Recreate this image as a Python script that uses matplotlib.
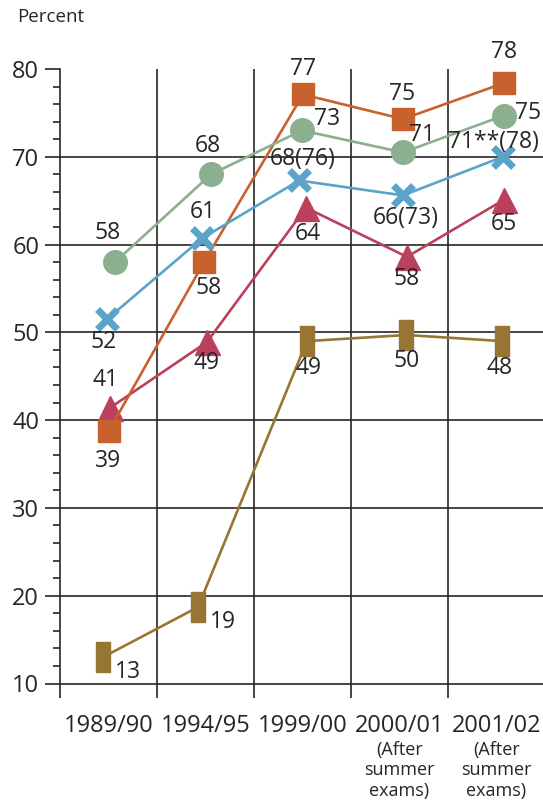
import matplotlib.pyplot as plt
from matplotlib.ticker import MultipleLocator, FixedLocator

plt.rcParams['font.family'] = ['Open Sans', 'DejaVu Sans']

years = ['1989/90', '1994/95', '1999/00', '2000/01', '2001/02']
notes = ['', '', '', '(After\nsummer\nexams)', '(After\nsummer\nexams)']

# values as plotted and the printed labels
green = [58, 68, 73, 70.5, 74.7]
green_lbl = ['58', '68', '73', '71', '75']
orange = [38.8, 58, 77.1, 74.3, 78.4]
orange_lbl = ['39', '58', '77', '75', '78']
blue = [51.5, 60.7, 67.3, 65.6, 70]
blue_lbl = ['52', '61', '68(76)', '66(73)', '71**(78)']
red = [41.4, 48.9, 64.2, 58.6, 65.1]
red_lbl = ['41', '49', '64', '58', '65']
brown = [13, 18.7, 49, 49.7, 49]
brown_lbl = ['13', '19', '49', '50', '48']

PX = 0.72  # points per pixel at dpi 100
COL = 97.0  # pixels per category

# layout: marker nudges (px) and label offsets (px)
layout = {
    'brown': dict(nudge=[-5.5, -7.5, 4.5, 7, 6],
                  off=[(25, -15), (25, -15), (2, -27), (0, -26), (-3, -27)]),
    'red': dict(nudge=[1.5, 1.5, 3.5, 7.5, 7.5],
                off=[(-4, 28), (0, -21), (2, -26), (0, -22), (0, -24)]),
    'orange': dict(nudge=[0.5, -1.5, 0.5, 3.5, 7.5],
                   off=[(-1, -30), (5, -26), (0, 25), (-1, 25), (0, 31)]),
    'green': dict(nudge=[6.5, 5.5, -0.5, 3.5, 7.5],
                  off=[(-7, 29), (-3, 28), (25, 11), (19, 17), (24, 3)]),
    'blue': dict(nudge=[-1.5, -3.5, -3.5, 3.5, 6.5],
                 off=[(-3, -23), (1, 26), (4, 21), (3, -23), (-10, 15)]),
}

rect = [(-0.22, -0.5), (0.22, -0.5), (0.22, 0.5), (-0.22, 0.5), (-0.22, -0.5)]

series = [
    ('brown', brown, brown_lbl, '#977533', dict(marker=rect, markersize=22)),
    ('red', red, red_lbl, '#BA405C', dict(marker='^', markersize=18)),
    ('orange', orange, orange_lbl, '#C8612D', dict(marker='s', markersize=16)),
    ('green', green, green_lbl, '#8BAF8F', dict(marker='o', markersize=17)),
    ('blue', blue, blue_lbl, '#5BA3C9', dict(marker='x', markersize=15, markeredgewidth=5)),
]

fig = plt.figure(figsize=(5.43, 8.10), dpi=100)
ax = fig.add_axes([60 / 543, 126.5 / 810, 483 / 543, 614.5 / 810])

ink = '#262626'
for name, vals, lbls, col, mk in series:
    lay = layout[name]
    xs = [i + n / COL for i, n in enumerate(lay['nudge'])]
    ax.plot(xs, vals, color=col, lw=1.9, markerfacecolor=col,
            markeredgecolor=col, zorder=3, clip_on=False, **mk)
    for x, v, t, (dx, dy) in zip(xs, vals, lbls, lay['off']):
        ax.annotate(t, (x, v), xytext=(dx * PX, dy * PX), textcoords='offset points',
                    ha='center', va='center', fontsize=16.5, color=ink, zorder=4)

ax.set_xlim(-0.5, 4.48)
ax.set_ylim(10, 80)

for y in range(20, 80, 10):
    ax.axhline(y, color=ink, lw=1.2, zorder=1)
for x in [0.5, 1.5, 2.5, 3.5]:
    ax.axvline(x, color=ink, lw=1.2, zorder=1)

for s in ['top', 'right']:
    ax.spines[s].set_visible(False)
for s in ['left', 'bottom']:
    ax.spines[s].set_color(ink)
    ax.spines[s].set_linewidth(1.2)

ax.yaxis.set_major_locator(MultipleLocator(10))
ax.yaxis.set_minor_locator(MultipleLocator(2))
ax.tick_params(axis='y', which='major', direction='out', length=11, width=1.2,
               color=ink, labelsize=17, labelcolor=ink, pad=4)
ax.tick_params(axis='y', which='minor', direction='out', length=5, width=1.2, color=ink)

ax.xaxis.set_major_locator(FixedLocator([-0.5, 0.5, 1.5, 2.5, 3.5]))
ax.xaxis.set_minor_locator(FixedLocator(range(len(years))))
ax.set_xticklabels([], minor=False)
ax.set_xticklabels(years, minor=True)
ax.tick_params(axis='x', which='major', direction='out', length=10, width=1.2, color=ink)
ax.tick_params(axis='x', which='minor', length=0, labelsize=17, labelcolor=ink, pad=22)

for i, n in enumerate(notes):
    if n:
        ax.text(i, -0.093, n, transform=ax.get_xaxis_transform(), ha='center', va='top',
                fontsize=13, color=ink, linespacing=1.2)

fig.text(17 / 543, 1 - 17 / 810, 'Percent', ha='left', va='center', fontsize=13.5, color=ink)

fig.savefig('out.png', dpi=100)
